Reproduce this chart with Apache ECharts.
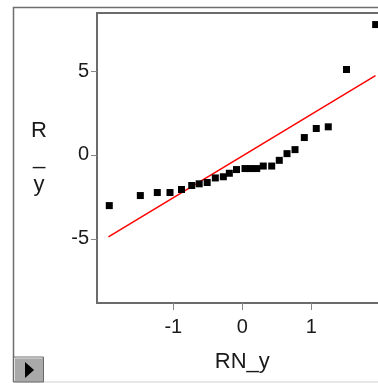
<!DOCTYPE html>
<html>
<head>
<meta charset="utf-8">
<script src="https://cdn.jsdelivr.net/npm/echarts@6/dist/echarts.min.js"></script>
<style>
html,body{margin:0;padding:0;background:#fff;}
#chart{width:378px;height:383px;}
</style>
</head>
<body>
<div id="chart"></div>
<script>
// Normal quantiles (x) and residuals (y)
const quantileX = [-1.928, -1.478, -1.232, -1.048, -0.881, -0.733, -0.625, -0.509, -0.391, -0.275, -0.188, -0.084, 0.039, 0.122, 0.209, 0.304, 0.426, 0.536, 0.648, 0.764, 0.899, 1.072, 1.246, 1.510, 1.933];
const residualY = [-3.02, -2.42, -2.24, -2.24, -2.06, -1.82, -1.72, -1.64, -1.37, -1.30, -1.09, -0.87, -0.81, -0.81, -0.81, -0.66, -0.66, -0.32, 0.08, 0.32, 1.04, 1.58, 1.68, 5.10, 7.78];
// Reference line endpoints
const refLineX = [-1.94, 1.93];
const refLineY = [-4.89, 4.73];
// Tick labels
const xTicks = [-1, 0, 1];
const yTicks = [-5, 0, 5];

const points = quantileX.map((x, i) => [x, residualY[i]]);
const linePts = refLineX.map((x, i) => [x, refLineY[i]]);

const chart = echarts.init(document.getElementById('chart'), null, {renderer: 'canvas'});
const font = 'Liberation Sans, Arial, sans-serif';
chart.setOption({
  animation: false,
  backgroundColor: '#ffffff',
  grid: {
    left: 97, top: 13, width: 290.6, height: 290,
    outerBoundsMode: 'none', containLabel: false,
    show: true, borderColor: '#6b6b6b', borderWidth: 2, backgroundColor: 'transparent'
  },
  xAxis: {
    type: 'value', min: -2.106, max: 2.106,
    name: 'RN_y', nameLocation: 'middle', nameGap: 59,
    nameTextStyle: {fontFamily: font, fontSize: 22, color: '#1a1a1a', verticalAlign: 'middle'},
    axisLine: {show: false, onZero: false},
    splitLine: {show: false},
    axisTick: {show: true, length: 7, customValues: xTicks, lineStyle: {color: '#888', width: 1}},
    axisLabel: {customValues: xTicks, margin: 14, fontFamily: font, fontSize: 20, color: '#1a1a1a'}
  },
  yAxis: {
    type: 'value', min: -8.83, max: 8.47,
    name: 'R\n_\ny', nameLocation: 'middle', nameRotate: 0, nameGap: 58,
    nameTextStyle: {fontFamily: font, fontSize: 22, lineHeight: 27, color: '#1a1a1a', align: 'center', verticalAlign: 'middle'},
    axisLine: {show: false, onZero: false},
    splitLine: {show: false},
    axisTick: {show: true, length: 6, customValues: yTicks, lineStyle: {color: '#888', width: 1}},
    axisLabel: {customValues: yTicks, margin: 8, fontFamily: font, fontSize: 20, color: '#1a1a1a'}
  },
  series: [
    {
      type: 'line', data: linePts, symbol: 'none',
      lineStyle: {color: '#ff0000', width: 1.5}, z: 2
    },
    {
      type: 'scatter', data: points, symbol: 'rect', symbolSize: 7,
      itemStyle: {color: '#000000', opacity: 1}, z: 3
    }
  ],
  graphic: [
    {type: 'polyline', shape: {points: [[13.5, 382], [13.5, 7.5], [400, 7.5]]}, style: {stroke: '#6e6e6e', lineWidth: 1.5, fill: null}},
    {type: 'line', shape: {x1: 13.5, y1: 382, x2: 400, y2: 382}, style: {stroke: '#cfcfcf', lineWidth: 1}},
    {type: 'rect', shape: {x: 13.5, y: 357, width: 30, height: 25}, style: {fill: '#a9a9a9', stroke: '#6a6a6a', lineWidth: 1}},
    {type: 'polyline', shape: {points: [[14.5, 381], [14.5, 358], [42.5, 358]]}, style: {stroke: '#e0e0e0', lineWidth: 1, fill: null}},
    {type: 'polygon', shape: {points: [[25, 362], [34, 370], [25, 378]]}, style: {fill: '#000000'}}
  ]
});
</script>
</body>
</html>
